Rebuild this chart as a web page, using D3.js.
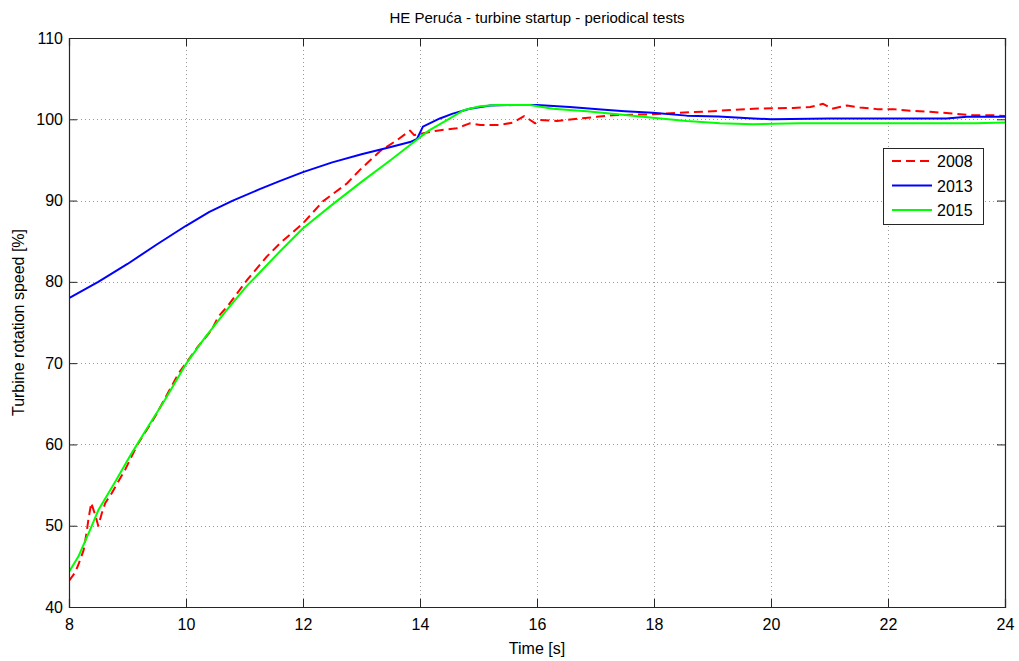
<!DOCTYPE html>
<html>
<head>
<meta charset="utf-8">
<script src="https://cdn.jsdelivr.net/npm/d3@7"></script>
<style>
  body { margin: 0; background: #fff; }
  svg { display: block; font-family: "Liberation Sans", Arial, Helvetica, sans-serif; }
</style>
</head>
<body>
<div id="chart"></div>
<script>
// ---- data ----
const chartTitle = "HE Peruća - turbine startup - periodical tests";
const xLabel = "Time [s]";
const yLabel = "Turbine rotation speed [%]";
const xTicks = [8, 10, 12, 14, 16, 18, 20, 22, 24];
const yTicks = [40, 50, 60, 70, 80, 90, 100, 110];
const seriesNames = ["2008", "2013", "2015"];

const t2008 = [8.0, 8.1, 8.16, 8.25, 8.3, 8.33, 8.38, 8.44, 8.5, 8.56, 8.62, 8.73, 8.96, 9.18, 9.47, 9.87, 10.2, 10.44, 10.55, 10.72, 11.04, 11.38, 11.6, 12.0, 12.34, 12.75, 12.97, 13.32, 13.6, 13.83, 13.9, 14.0, 14.29, 14.63, 14.85, 15.03, 15.37, 15.59, 15.78, 15.97, 16.05, 16.34, 16.74, 17.02, 17.3, 17.87, 18.44, 19.0, 19.7, 20.38, 20.67, 20.89, 21.04, 21.3, 21.52, 21.81, 22.09, 22.38, 22.77, 23.1, 23.45, 23.8, 24.0];
const v2008 = [43.2, 44.2, 45.2, 47.0, 49.1, 50.7, 52.8, 51.5, 50.0, 51.5, 52.8, 54.0, 56.9, 60.1, 63.4, 68.7, 72.0, 74.1, 75.7, 77.1, 80.2, 83.1, 84.7, 87.2, 89.9, 92.1, 93.75, 96.1, 97.4, 98.6, 98.05, 98.2, 98.6, 98.9, 99.5, 99.3, 99.3, 99.6, 100.4, 99.5, 99.9, 99.8, 100.1, 100.3, 100.5, 100.6, 100.8, 101.0, 101.3, 101.4, 101.5, 101.9, 101.3, 101.7, 101.45, 101.25, 101.25, 101.05, 100.9, 100.7, 100.5, 100.5, 100.4];

const t2013 = [8.0, 8.5, 9.0, 9.5, 10.0, 10.4, 10.8, 11.26, 11.6, 12.0, 12.5, 13.0, 13.5, 13.83, 13.95, 14.05, 14.34, 14.56, 14.85, 15.2, 15.6, 16.0, 16.56, 17.1, 17.5, 17.98, 18.56, 19.1, 19.7, 20.0, 21.0, 22.0, 23.0, 23.35, 24.0];
const v2013 = [78.0, 80.0, 82.2, 84.6, 86.9, 88.6, 90.0, 91.4, 92.4, 93.5, 94.7, 95.7, 96.6, 97.2, 97.6, 99.1, 100.1, 100.7, 101.3, 101.7, 101.75, 101.75, 101.5, 101.2, 101.0, 100.8, 100.45, 100.35, 100.1, 100.0, 100.1, 100.1, 100.1, 100.3, 100.3];

const t2015 = [8.0, 8.16, 8.36, 8.5, 8.79, 9.07, 9.3, 9.64, 10.0, 10.32, 10.67, 11.04, 11.6, 12.0, 12.5, 13.0, 13.5, 14.0, 14.17, 14.46, 14.74, 15.03, 15.3, 15.88, 16.27, 16.85, 17.42, 17.98, 18.56, 19.13, 19.7, 20.5, 21.5, 22.5, 23.5, 24.0];
const v2015 = [44.3, 46.2, 49.5, 51.9, 55.4, 58.9, 61.6, 65.5, 69.9, 73.1, 76.3, 79.5, 83.7, 86.6, 89.5, 92.3, 95.0, 97.8, 98.7, 99.9, 101.1, 101.6, 101.75, 101.75, 101.3, 101.0, 100.6, 100.2, 99.8, 99.5, 99.4, 99.5, 99.5, 99.5, 99.5, 99.6];

const seriesT = [t2008, t2013, t2015];
const seriesV = [v2008, v2013, v2015];
const seriesColors = ["#ff0000", "#0000ff", "#00ff00"];
const seriesDash = ["9,5", null, null];

// ---- layout ----
const W = 1019, H = 661;
const m = { left: 69, right: W - 1005, top: 38, bottom: H - 607 };
const iw = W - m.left - m.right, ih = H - m.top - m.bottom;

const svg = d3.select("#chart").append("svg").attr("width", W).attr("height", H);
const g = svg.append("g").attr("transform", `translate(${m.left},${m.top})`);

const x = d3.scaleLinear().domain([8, 24]).range([0, iw]);
const y = d3.scaleLinear().domain([40, 110]).range([ih, 0]);

// background
g.append("rect").attr("width", iw).attr("height", ih).attr("fill", "#fff");

// grid
const grid = g.append("g").attr("stroke", "#9a9a9a").attr("stroke-width", 1).attr("stroke-dasharray", "1,3");
xTicks.slice(1, -1).forEach(t => grid.append("line")
  .attr("x1", Math.round(x(t)) + 0.5).attr("x2", Math.round(x(t)) + 0.5).attr("y1", 0).attr("y2", ih));
yTicks.slice(1, -1).forEach(v => grid.append("line")
  .attr("y1", Math.round(y(v)) + 0.5).attr("y2", Math.round(y(v)) + 0.5).attr("x1", 0).attr("x2", iw));

// lines
const clip = svg.append("clipPath").attr("id", "clip").append("rect").attr("width", iw).attr("height", ih);
const lineGen = d3.line().x(d => x(d[0])).y(d => y(d[1]));
seriesNames.forEach((name, i) => {
  const pts = seriesT[i].map((t, k) => [t, seriesV[i][k]]);
  g.append("path").datum(pts)
    .attr("clip-path", "url(#clip)")
    .attr("fill", "none")
    .attr("stroke", seriesColors[i])
    .attr("stroke-width", 2)
    .attr("stroke-dasharray", seriesDash[i])
    .attr("stroke-linejoin", "round")
    .attr("d", lineGen);
});

// axes (MATLAB style: inward ticks on all four sides)
const tickLen = 8;
const axisColor = "#262626";
const xAxisB = d3.axisBottom(x).tickValues(xTicks).tickSize(-tickLen).tickPadding(12).tickFormat(d3.format("d"));
const xAxisT = d3.axisTop(x).tickValues(xTicks).tickSize(-tickLen).tickFormat("");
const yAxisL = d3.axisLeft(y).tickValues(yTicks).tickSize(-tickLen).tickPadding(6).tickFormat(d3.format("d"));
const yAxisR = d3.axisRight(y).tickValues(yTicks).tickSize(-tickLen).tickFormat("");

function styleAxis(sel) {
  sel.select(".domain").attr("stroke", axisColor).attr("stroke-width", 1.2);
  sel.selectAll(".tick line").attr("stroke", axisColor);
  sel.selectAll(".tick text").attr("fill", "#000").style("font-size", "16px");
}
g.append("g").attr("transform", `translate(0,${ih})`).call(xAxisB).call(styleAxis);
g.append("g").call(xAxisT).call(styleAxis);
g.append("g").call(yAxisL).call(styleAxis);
g.append("g").attr("transform", `translate(${iw},0)`).call(yAxisR).call(styleAxis);

// titles
svg.append("text").attr("x", m.left + iw / 2).attr("y", 23).attr("text-anchor", "middle")
  .style("font-size", "15px").text(chartTitle);
svg.append("text").attr("x", m.left + iw / 2).attr("y", 654).attr("text-anchor", "middle")
  .style("font-size", "16px").text(xLabel);
svg.append("text").attr("transform", `translate(24,${m.top + ih / 2}) rotate(-90)`).attr("text-anchor", "middle")
  .style("font-size", "16px").text(yLabel);

// legend
const lg = svg.append("g").attr("transform", "translate(883,148)");
lg.append("rect").attr("x", 0.5).attr("y", 0.5).attr("width", 100).attr("height", 76)
  .attr("fill", "#fff").attr("stroke", axisColor).attr("stroke-width", 1);
seriesNames.forEach((name, i) => {
  const cy = 13 + i * 24.5;
  lg.append("line").attr("x1", 9).attr("x2", 49).attr("y1", cy).attr("y2", cy)
    .attr("stroke", seriesColors[i]).attr("stroke-width", 2).attr("stroke-dasharray", seriesDash[i]);
  lg.append("text").attr("x", 54).attr("y", cy + 6).style("font-size", "16px").text(name);
});
</script>
</body>
</html>
